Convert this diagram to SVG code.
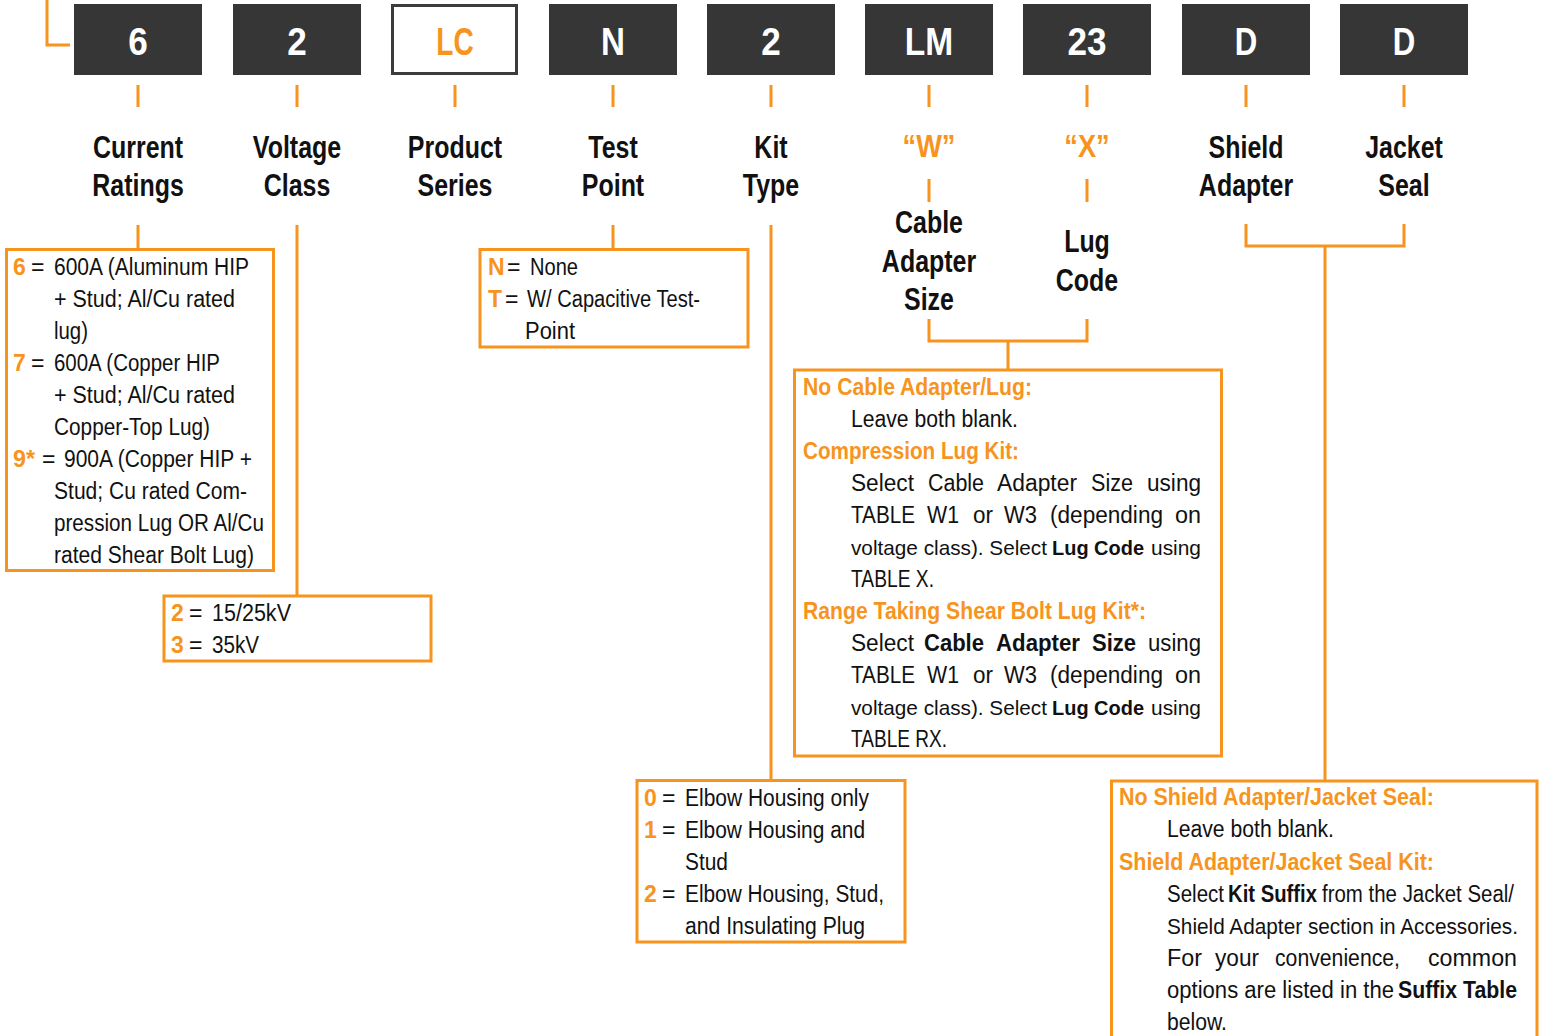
<svg xmlns="http://www.w3.org/2000/svg" width="1541" height="1036" viewBox="0 0 1541 1036">
<style>
text{font-family:"Liberation Sans",Arial,sans-serif;fill:#111}
.hd{font-size:39px;font-weight:bold;fill:#fff;text-anchor:middle}
.lbl{font-size:32px;font-weight:bold;text-anchor:middle}
.t{font-size:23px}
.s{font-size:22px}
.r{font-size:21px}
.o{fill:#F7941D;font-weight:bold}
.b{font-weight:bold}
.dark{fill:#363636}
.box{fill:none;stroke:#F7941D;stroke-width:3}
.ln{fill:none;stroke:#F7941D;stroke-width:3}
</style>
<rect width="1541" height="1036" fill="#fff"/>
<g id="connectors">
<path class="ln" d="M47,0 V45 H70"/>
<path class="ln" d="M138,85V107 M297,85V107 M455,85V107 M613,85V107 M771,85V107 M929,85V107 M1087,85V107 M1246,85V107 M1404,85V107"/>
<path class="ln" d="M929,179V202 M1087,179V202"/>
<path class="ln" d="M138,225V249 M297,225V596 M613,225V249 M771,225V780"/>
<path class="ln" d="M929,319V341H1087V319 M1008,341V370"/>
<path class="ln" d="M1246,224V246H1404V224 M1325,246V781"/>
</g>
<g id="code-6"><rect class="dark" x="74" y="4" width="128" height="71"/><text class="hd" transform="translate(138,55) scale(0.9,1)">6</text></g>
<g id="code-2a"><rect class="dark" x="233" y="4" width="128" height="71"/><text class="hd" transform="translate(297,55) scale(0.9,1)">2</text></g>
<g id="code-LC"><rect x="392.5" y="5.5" width="124" height="68" fill="#fff" stroke="#3c3c3c" stroke-width="3"/><text class="hd" style="fill:#F7941D" transform="translate(455,55) scale(0.72,1)">LC</text></g>
<g id="code-N"><rect class="dark" x="549" y="4" width="128" height="71"/><text class="hd" transform="translate(613,55) scale(0.85,1)">N</text></g>
<g id="code-2b"><rect class="dark" x="707" y="4" width="128" height="71"/><text class="hd" transform="translate(771,55) scale(0.9,1)">2</text></g>
<g id="code-LM"><rect class="dark" x="865" y="4" width="128" height="71"/><text class="hd" transform="translate(929,55) scale(0.86,1)">LM</text></g>
<g id="code-23"><rect class="dark" x="1023" y="4" width="128" height="71"/><text class="hd" transform="translate(1087,55) scale(0.9,1)">23</text></g>
<g id="code-Da"><rect class="dark" x="1182" y="4" width="128" height="71"/><text class="hd" transform="translate(1246,55) scale(0.8,1)">D</text></g>
<g id="code-Db"><rect class="dark" x="1340" y="4" width="128" height="71"/><text class="hd" transform="translate(1404,55) scale(0.8,1)">D</text></g>

<g id="label-current"><text class="lbl" transform="translate(138,0) scale(0.78,1)"><tspan x="0" y="158">Current</tspan><tspan x="0" y="196">Ratings</tspan></text></g>
<g id="label-voltage"><text class="lbl" transform="translate(297,0) scale(0.78,1)"><tspan x="0" y="158">Voltage</tspan><tspan x="0" y="196">Class</tspan></text></g>
<g id="label-product"><text class="lbl" transform="translate(455,0) scale(0.78,1)"><tspan x="0" y="158">Product</tspan><tspan x="0" y="196">Series</tspan></text></g>
<g id="label-test"><text class="lbl" transform="translate(613,0) scale(0.78,1)"><tspan x="0" y="158">Test</tspan><tspan x="0" y="196">Point</tspan></text></g>
<g id="label-kit"><text class="lbl" transform="translate(771,0) scale(0.78,1)"><tspan x="0" y="158">Kit</tspan><tspan x="0" y="196">Type</tspan></text></g>
<g id="label-w"><text class="lbl" style="fill:#F7941D" transform="translate(929,0) scale(0.85,1)"><tspan x="0" y="157">“W”</tspan></text><text class="lbl" transform="translate(929,0) scale(0.78,1)"><tspan x="0" y="233">Cable</tspan><tspan x="0" y="272">Adapter</tspan><tspan x="0" y="310">Size</tspan></text></g>
<g id="label-x"><text class="lbl" style="fill:#F7941D" transform="translate(1087,0) scale(0.85,1)"><tspan x="0" y="157">“X”</tspan></text><text class="lbl" transform="translate(1087,0) scale(0.78,1)"><tspan x="0" y="252">Lug</tspan><tspan x="0" y="291">Code</tspan></text></g>
<g id="label-shield"><text class="lbl" transform="translate(1246,0) scale(0.78,1)"><tspan x="0" y="158">Shield</tspan><tspan x="0" y="196">Adapter</tspan></text></g>
<g id="label-jacket"><text class="lbl" transform="translate(1404,0) scale(0.78,1)"><tspan x="0" y="158">Jacket</tspan><tspan x="0" y="196">Seal</tspan></text></g>

<g id="box-current">
<rect class="box" x="6.5" y="249.5" width="267" height="321"/>
<text class="t o" x="13" y="275">6</text><text class="t" x="31" y="275">=</text>
<text class="t" x="54" y="275" textLength="195" lengthAdjust="spacingAndGlyphs">600A (Aluminum HIP</text>
<text class="t" x="54" y="307" textLength="181" lengthAdjust="spacingAndGlyphs">+ Stud; Al/Cu rated</text>
<text class="t" x="54" y="339" textLength="34" lengthAdjust="spacingAndGlyphs">lug)</text>
<text class="t o" x="13" y="371">7</text><text class="t" x="31" y="371">=</text>
<text class="t" x="54" y="371" textLength="166" lengthAdjust="spacingAndGlyphs">600A (Copper HIP</text>
<text class="t" x="54" y="403" textLength="181" lengthAdjust="spacingAndGlyphs">+ Stud; Al/Cu rated</text>
<text class="t" x="54" y="435" textLength="156" lengthAdjust="spacingAndGlyphs">Copper-Top Lug)</text>
<text class="t o" x="13" y="467" textLength="22" lengthAdjust="spacingAndGlyphs">9*</text><text class="t" x="42" y="467">=</text>
<text class="t" x="64" y="467" textLength="188" lengthAdjust="spacingAndGlyphs">900A (Copper HIP +</text>
<text class="t" x="54" y="499" textLength="193" lengthAdjust="spacingAndGlyphs">Stud; Cu rated Com-</text>
<text class="t" x="54" y="531" textLength="210" lengthAdjust="spacingAndGlyphs">pression Lug OR Al/Cu</text>
<text class="t" x="54" y="563" textLength="200" lengthAdjust="spacingAndGlyphs">rated Shear Bolt Lug)</text>
</g>

<g id="box-voltage">
<rect class="box" x="164" y="596" width="267" height="65"/>
<text class="t o" x="171" y="621">2</text><text class="t" x="189" y="621">=</text>
<text class="t" x="212" y="621" textLength="79" lengthAdjust="spacingAndGlyphs">15/25kV</text>
<text class="t o" x="171" y="653">3</text><text class="t" x="189" y="653">=</text>
<text class="t" x="212" y="653" textLength="47" lengthAdjust="spacingAndGlyphs">35kV</text>
</g>

<g id="box-test">
<rect class="box" x="480" y="249.5" width="268" height="97.5"/>
<text class="t o" x="488" y="275">N</text><text class="t" x="507" y="275">=</text>
<text class="t" x="530" y="275" textLength="48" lengthAdjust="spacingAndGlyphs">None</text>
<text class="t o" x="488" y="307">T</text><text class="t" x="505" y="307">=</text>
<text class="t" x="527" y="307" textLength="173" lengthAdjust="spacingAndGlyphs">W/ Capacitive Test-</text>
<text class="t" x="525" y="339" textLength="50" lengthAdjust="spacingAndGlyphs">Point</text>
</g>

<g id="box-cable">
<rect class="box" x="794.5" y="370" width="427" height="386"/>
<text class="t o" x="803" y="395" textLength="229" lengthAdjust="spacingAndGlyphs">No Cable Adapter/Lug:</text>
<text class="t" x="851" y="427" textLength="167" lengthAdjust="spacingAndGlyphs">Leave both blank.</text>
<text class="t o" x="803" y="459" textLength="216" lengthAdjust="spacingAndGlyphs">Compression Lug Kit:</text>
<text class="t" x="851" y="491" textLength="63" lengthAdjust="spacingAndGlyphs">Select</text>
<text class="t" x="928" y="491" textLength="56" lengthAdjust="spacingAndGlyphs">Cable</text>
<text class="t" x="997" y="491" textLength="80" lengthAdjust="spacingAndGlyphs">Adapter</text>
<text class="t" x="1091" y="491" textLength="42" lengthAdjust="spacingAndGlyphs">Size</text>
<text class="t" x="1147" y="491" textLength="54" lengthAdjust="spacingAndGlyphs">using</text>
<text class="t" x="851" y="523" textLength="64" lengthAdjust="spacingAndGlyphs">TABLE</text>
<text class="t" x="927" y="523" textLength="32" lengthAdjust="spacingAndGlyphs">W1</text>
<text class="t" x="973" y="523" textLength="20" lengthAdjust="spacingAndGlyphs">or</text>
<text class="t" x="1004" y="523" textLength="33" lengthAdjust="spacingAndGlyphs">W3</text>
<text class="t" x="1050" y="523" textLength="113" lengthAdjust="spacingAndGlyphs">(depending</text>
<text class="t" x="1175" y="523" textLength="26" lengthAdjust="spacingAndGlyphs">on</text>
<text class="r" x="851" y="555" textLength="196" lengthAdjust="spacingAndGlyphs">voltage class). Select</text>
<text class="r b" x="1052" y="555" textLength="92" lengthAdjust="spacingAndGlyphs">Lug Code</text>
<text class="r" x="1151" y="555" textLength="50" lengthAdjust="spacingAndGlyphs">using</text>
<text class="t" x="851" y="587" textLength="83" lengthAdjust="spacingAndGlyphs">TABLE X.</text>
<text class="t o" x="803" y="619" textLength="343" lengthAdjust="spacingAndGlyphs">Range Taking Shear Bolt Lug Kit*:</text>
<text class="t" x="851" y="651" textLength="63" lengthAdjust="spacingAndGlyphs">Select</text>
<text class="t b" x="924" y="651" textLength="60" lengthAdjust="spacingAndGlyphs">Cable</text>
<text class="t b" x="996" y="651" textLength="84" lengthAdjust="spacingAndGlyphs">Adapter</text>
<text class="t b" x="1092" y="651" textLength="44" lengthAdjust="spacingAndGlyphs">Size</text>
<text class="t" x="1148" y="651" textLength="53" lengthAdjust="spacingAndGlyphs">using</text>
<text class="t" x="851" y="683" textLength="64" lengthAdjust="spacingAndGlyphs">TABLE</text>
<text class="t" x="927" y="683" textLength="32" lengthAdjust="spacingAndGlyphs">W1</text>
<text class="t" x="973" y="683" textLength="20" lengthAdjust="spacingAndGlyphs">or</text>
<text class="t" x="1004" y="683" textLength="33" lengthAdjust="spacingAndGlyphs">W3</text>
<text class="t" x="1050" y="683" textLength="113" lengthAdjust="spacingAndGlyphs">(depending</text>
<text class="t" x="1175" y="683" textLength="26" lengthAdjust="spacingAndGlyphs">on</text>
<text class="r" x="851" y="715" textLength="196" lengthAdjust="spacingAndGlyphs">voltage class). Select</text>
<text class="r b" x="1052" y="715" textLength="92" lengthAdjust="spacingAndGlyphs">Lug Code</text>
<text class="r" x="1151" y="715" textLength="50" lengthAdjust="spacingAndGlyphs">using</text>
<text class="t" x="851" y="747" textLength="96" lengthAdjust="spacingAndGlyphs">TABLE RX.</text>
</g>

<g id="box-kit">
<rect class="box" x="637" y="780.5" width="268" height="161.5"/>
<text class="t o" x="644" y="806">0</text><text class="t" x="662" y="806">=</text>
<text class="t" x="685" y="806" textLength="184" lengthAdjust="spacingAndGlyphs">Elbow Housing only</text>
<text class="t o" x="644" y="838">1</text><text class="t" x="662" y="838">=</text>
<text class="t" x="685" y="838" textLength="180" lengthAdjust="spacingAndGlyphs">Elbow Housing and</text>
<text class="t" x="685" y="870" textLength="43" lengthAdjust="spacingAndGlyphs">Stud</text>
<text class="t o" x="644" y="902">2</text><text class="t" x="662" y="902">=</text>
<text class="t" x="685" y="902" textLength="199" lengthAdjust="spacingAndGlyphs">Elbow Housing, Stud,</text>
<text class="t" x="685" y="934" textLength="180" lengthAdjust="spacingAndGlyphs">and Insulating Plug</text>
</g>

<g id="box-shield">
<rect class="box" x="1111.5" y="781" width="425.5" height="300"/>
<text class="t o" x="1119" y="805" textLength="315" lengthAdjust="spacingAndGlyphs">No Shield Adapter/Jacket Seal:</text>
<text class="t" x="1167" y="837" textLength="167" lengthAdjust="spacingAndGlyphs">Leave both blank.</text>
<text class="t o" x="1119" y="870" textLength="315" lengthAdjust="spacingAndGlyphs">Shield Adapter/Jacket Seal Kit:</text>
<text class="t" x="1167" y="902" textLength="57" lengthAdjust="spacingAndGlyphs">Select</text>
<text class="t b" x="1228" y="902" textLength="89" lengthAdjust="spacingAndGlyphs">Kit Suffix</text>
<text class="t" x="1322" y="902" textLength="192" lengthAdjust="spacingAndGlyphs">from the Jacket Seal/</text>
<text class="s" x="1167" y="934" textLength="351" lengthAdjust="spacingAndGlyphs">Shield Adapter section in Accessories.</text>
<text class="t" x="1167" y="966" textLength="35" lengthAdjust="spacingAndGlyphs">For</text>
<text class="t" x="1215" y="966" textLength="44" lengthAdjust="spacingAndGlyphs">your</text>
<text class="t" x="1275" y="966" textLength="125" lengthAdjust="spacingAndGlyphs">convenience,</text>
<text class="t" x="1428" y="966" textLength="89" lengthAdjust="spacingAndGlyphs">common</text>
<text class="t" x="1167" y="998" textLength="227" lengthAdjust="spacingAndGlyphs">options are listed in the</text>
<text class="t b" x="1398" y="998" textLength="119" lengthAdjust="spacingAndGlyphs">Suffix Table</text>
<text class="t" x="1167" y="1030" textLength="60" lengthAdjust="spacingAndGlyphs">below.</text>
</g>
</svg>
